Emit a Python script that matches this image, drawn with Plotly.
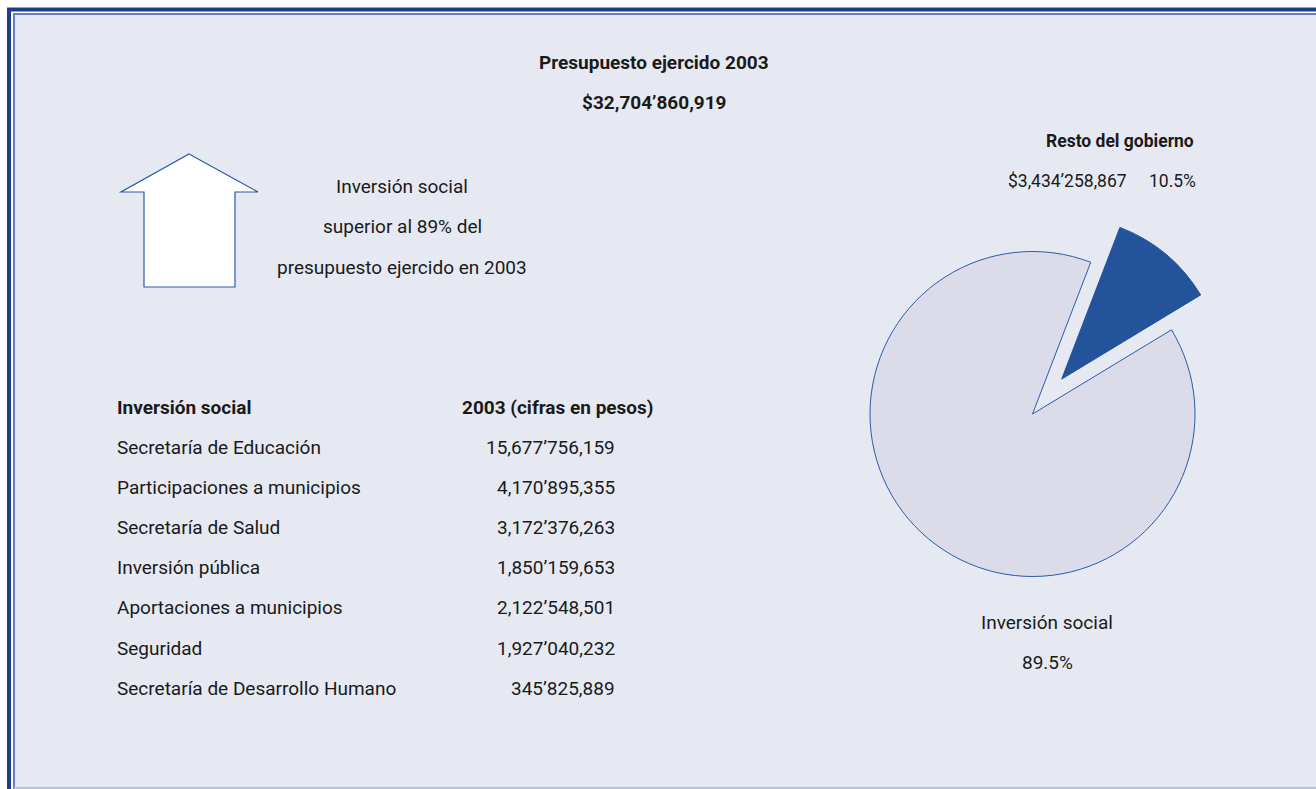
import plotly.graph_objects as go

# data
title_lines = ["Presupuesto ejercido 2003", "$32,704’860,919"]
arrow_note = ["Inversión social", "superior al 89% del", "presupuesto ejercido en 2003"]

table_header = ["Inversión social", "2003 (cifras en pesos)"]
rubros = ["Secretaría de Educación", "Participaciones a municipios", "Secretaría de Salud",
          "Inversión pública", "Aportaciones a municipios", "Seguridad",
          "Secretaría de Desarrollo Humano"]
montos = [15677756159, 4170895355, 3172376263, 1850159653, 2122548501, 1927040232, 345825889]

pie_labels = ["Resto del gobierno", "Inversión social"]
pie_shares = [10.5, 89.5]
resto_monto = "$3,434’258,867"

W, H = 1316, 789
BG = "#E6E9F2"
DARK = "#23539A"
TXT = "#1A1A1A"
FONT = "Roboto, Liberation Sans, sans-serif"
FS = 19


def fmt(n):
    # 15,677'756,159 style: millions separated by an apostrophe
    s = f"{n:,}"
    parts = s.split(",")
    if len(parts) >= 3:
        return ",".join(parts[:-2]) + "’" + parts[-2] + "," + parts[-1]
    return s


fig = go.Figure()

fig.add_trace(go.Pie(
    labels=pie_labels,
    values=pie_shares,
    sort=False,
    direction="clockwise",
    rotation=21,
    pull=[0.28, 0],
    textinfo="none",
    hoverinfo="label+percent",
    marker=dict(colors=[DARK, "#DCDBEA"],
                line=dict(color=[DARK, "#2B5BA8"], width=1)),
    domain=dict(x=[(1032.5 - 208) / W, (1032.5 + 208) / W],
                y=[1 - (414 + 208) / H, 1 - (414 - 208) / H]),
    showlegend=False,
))

# invisible pixel axes for placing the text blocks
fig.update_xaxes(range=[0, W], visible=False, fixedrange=True)
fig.update_yaxes(range=[H, 0], visible=False, fixedrange=True)

shapes = [
    # panel background and inner light frame
    dict(type="rect", xref="x", yref="y", x0=14, y0=14, x1=W + 20, y1=788,
         fillcolor=BG, line=dict(color="#6480C4", width=2), layer="below"),
    dict(type="line", xref="x", yref="y", x0=14, y0=788, x1=W, y1=788,
         line=dict(color="#B8C2DE", width=2), layer="below"),
    # outer dark frame
    dict(type="line", xref="x", yref="y", x0=9, y0=8, x1=9, y1=H + 5,
         line=dict(color="#1F3C8C", width=4), layer="below"),
    dict(type="line", xref="x", yref="y", x0=7, y0=9.5, x1=W + 5, y1=9.5,
         line=dict(color="#1F3C8C", width=4), layer="below"),
    # up arrow
    dict(type="path", xref="x", yref="y",
         path="M 189 154 L 258 192 L 235 192 L 235 287 L 144 287 L 144 192 L 121 192 Z",
         fillcolor="white", line=dict(color="#2B5BA8", width=1.2), layer="below"),
]

ann = []


def txt(x, y, s, bold=False, anchor="center", size=FS):
    ann.append(dict(x=x, y=y, xref="x", yref="y", text=f"<b>{s}</b>" if bold else s,
                    showarrow=False, xanchor=anchor, yanchor="middle",
                    font=dict(family=FONT, size=size, color=TXT)))


txt(654, 62, title_lines[0], bold=True)
txt(654, 102, title_lines[1], bold=True)

for i, line in enumerate(arrow_note):
    txt(402, 186 + i * 40.5, line)

txt(115, 407, table_header[0], bold=True, anchor="left")
txt(656, 407, table_header[1], bold=True, anchor="right")
for i, (r, m) in enumerate(zip(rubros, montos)):
    y = 447 + i * 40.2
    txt(115, y, r, anchor="left")
    txt(617, y, fmt(m), anchor="right")

txt(1120, 141, pie_labels[0], bold=True, size=17.5)
txt(1129, 181, resto_monto, anchor="right", size=17.5)
txt(1198, 181, f"{pie_shares[0]}%", anchor="right", size=17.5)
txt(1047, 622, pie_labels[1])
txt(1047, 662, f"{pie_shares[1]}%")

fig.update_layout(
    width=W, height=H,
    margin=dict(l=0, r=0, t=0, b=0),
    paper_bgcolor="white",
    plot_bgcolor="rgba(0,0,0,0)",
    shapes=shapes,
    annotations=ann,
)

fig.write_html("out.html", config={"displayModeBar": False},
               post_script="document.body.style.margin='0';document.body.style.overflow='hidden';")
